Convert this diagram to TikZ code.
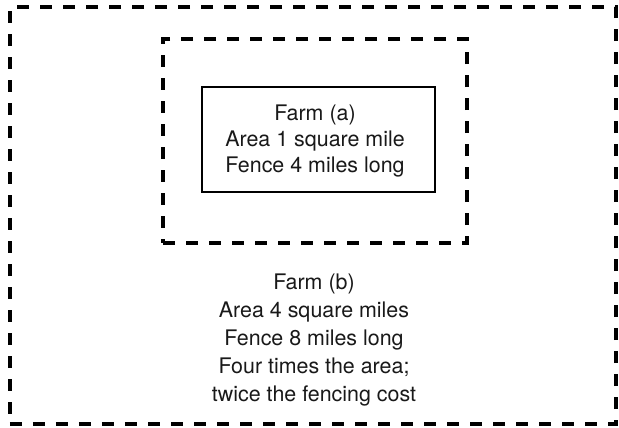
\documentclass[tikz,border=0pt]{standalone}
\usepackage{fontspec}
\setmainfont{TeX Gyre Heros}
\begin{document}
\begin{tikzpicture}[x=1bp,y=-1bp,
  fence/.style={draw=black, line width=3.3bp, dash pattern=on 12bp off 11bp, inner sep=0pt},
  farmbox/.style={draw=black, line width=1.2bp, inner sep=0pt},
  farmtext/.style={align=center, font=\fontsize{21.5}{26.5}\selectfont, text=black!90, inner sep=0pt}]
\useasboundingbox (0,0) rectangle (619,427);
\node[fence, minimum width=606bp, minimum height=417bp] (outer) at (313,215.5) {};
\node[fence, minimum width=304bp, minimum height=204bp] (middle) at (315,141) {};
\node[farmbox, minimum width=233bp, minimum height=105bp] (inner) at (318.5,139.5) {};
\node[farmtext] (ta) at (315,141) {Farm (a)\\Area 1 square mile\\Fence 4 miles long};
\node[farmtext, font=\fontsize{21.5}{28}\selectfont] (tb) at (314,340) {Farm (b)\\Area 4 square miles\\Fence 8 miles long\\Four times the area;\\twice the fencing cost};
\end{tikzpicture}
\end{document}
